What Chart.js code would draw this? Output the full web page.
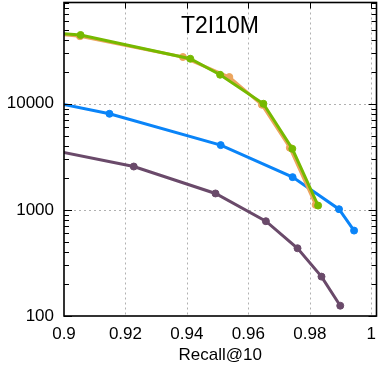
<!DOCTYPE html>
<html>
<head>
<meta charset="utf-8">
<script src="https://cdn.jsdelivr.net/npm/chart.js@4.4.1/dist/chart.umd.min.js"></script>
<style>
  html, body { margin: 0; padding: 0; background: #fff; }
  canvas { display: block; }
</style>
</head>
<body>
<canvas id="chart" width="378" height="366"></canvas>
<script>
// tick labels
const xTicks = [0.9, 0.92, 0.94, 0.96, 0.98, 1];
const yTicks = [100, 1000, 10000];

// series (recall, qps) - first point sits left of the visible range
const greenRecall = [0.88, 0.9054, 0.9411, 0.9508, 0.9649, 0.9743, 0.9827];
const greenQps    = [50900, 44460, 26570, 18770, 10000, 3763, 1098];

const orangeRecall = [0.88, 0.9052, 0.9387, 0.9538, 0.9644, 0.9735, 0.9819];
const orangeQps    = [50000, 43300, 27570, 17860, 9786, 3846, 1115];

const blueRecall = [0.88, 0.9148, 0.9510, 0.9744, 0.9895, 0.9944];
const blueQps    = [12900, 8048, 4077, 2035, 1015, 638];

const purpleRecall = [0.88, 0.9227, 0.9493, 0.9657, 0.9760, 0.9838, 0.9899];
const purpleQps    = [4545, 2562, 1428, 782, 435, 235, 125];

const titleText = 'T2I10M';
const xTitle = 'Recall@10';

function toPoints(xs, ys) {
    return xs.map((x, i) => ({ x: x, y: ys[i] }));
}

function series(xs, ys, color) {
    return {
        data: toPoints(xs, ys),
        borderColor: color,
        backgroundColor: color,
        borderWidth: 3,
        pointRadius: 3.5,
        pointHoverRadius: 3.5,
        pointBorderWidth: 1,
        tension: 0,
        clip: 0
    };
}

// frame, dotted grid, inward ticks and the title
const framePlugin = {
    id: 'frame',
    beforeDatasetsDraw(chart) {
        const ctx = chart.ctx;
        const a = chart.chartArea;
        const xs = chart.scales.x, ys = chart.scales.y;
        ctx.save();
        ctx.strokeStyle = '#b0b0b0';
        ctx.lineWidth = 1;
        ctx.setLineDash([2, 3]);
        xTicks.slice(1).forEach(v => {
            const px = Math.round(xs.getPixelForValue(v)) + 0.5;
            ctx.beginPath(); ctx.moveTo(px, a.top); ctx.lineTo(px, a.bottom); ctx.stroke();
        });
        yTicks.slice(1).forEach(v => {
            const py = Math.round(ys.getPixelForValue(v)) + 0.5;
            ctx.beginPath(); ctx.moveTo(a.left, py); ctx.lineTo(a.right, py); ctx.stroke();
        });
        ctx.restore();
    },
    afterDatasetsDraw(chart) {
        const ctx = chart.ctx;
        const a = chart.chartArea;
        const xs = chart.scales.x, ys = chart.scales.y;
        ctx.save();
        ctx.strokeStyle = '#000';
        ctx.lineWidth = 1;
        // minor + major ticks on left and right
        for (let d = 100; d <= 100000; d *= 10) {
            for (let k = 1; k <= 9; k++) {
                const v = d * k;
                if (v < ys.min || v > ys.max) continue;
                const py = Math.round(ys.getPixelForValue(v)) + 0.5;
                const len = k === 1 ? 8 : 5;
                ctx.beginPath();
                ctx.moveTo(a.left, py); ctx.lineTo(a.left + len, py);
                ctx.moveTo(a.right, py); ctx.lineTo(a.right - len, py);
                ctx.stroke();
            }
        }
        xTicks.forEach(v => {
            const px = Math.round(xs.getPixelForValue(v)) + 0.5;
            ctx.beginPath();
            ctx.moveTo(px, a.top); ctx.lineTo(px, a.top + 6);
            ctx.stroke();
        });
        ctx.lineWidth = 1.6;
        ctx.strokeRect(a.left, a.top, a.right - a.left, a.bottom - a.top);
        ctx.fillStyle = '#000';
        ctx.font = '23px "Liberation Sans", Arial, sans-serif';
        ctx.textAlign = 'center';
        ctx.textBaseline = 'middle';
        ctx.fillText(titleText, 220, 27);
        ctx.restore();
    }
};

const ctx = document.getElementById('chart').getContext('2d');
new Chart(ctx, {
    type: 'line',
    data: {
        datasets: [
            series(greenRecall, greenQps, '#76b900'),
            series(orangeRecall, orangeQps, '#eca55e'),
            series(blueRecall, blueQps, '#0a84f8'),
            series(purpleRecall, purpleQps, '#6a4a6a')
        ]
    },
    options: {
        responsive: false,
        animation: false,
        devicePixelRatio: 1,
        layout: { autoPadding: false, padding: { top: 2.5, right: 1.5, left: 0, bottom: 0 } },
        plugins: {
            legend: { display: false },
            tooltip: { enabled: false }
        },
        scales: {
            x: {
                type: 'linear',
                min: 0.9,
                max: 1.0017,
                grid: { display: false, drawTicks: false },
                border: { display: false },
                afterFit(s) { s.height = 50; s.paddingLeft = 0; s.paddingRight = 0; },
                afterBuildTicks(s) { s.ticks = xTicks.map(v => ({ value: v })); },
                ticks: {
                    padding: 8,
                    color: '#000',
                    maxRotation: 0,
                    autoSkip: false,
                    font: { family: '"Liberation Sans", Arial, sans-serif', size: 17 },
                    callback: v => String(Number(v.toFixed(2)))
                },
                title: {
                    display: true,
                    text: xTitle,
                    color: '#000',
                    padding: { top: 0, bottom: 0 },
                    font: { family: '"Liberation Sans", Arial, sans-serif', size: 17 }
                }
            },
            y: {
                type: 'logarithmic',
                min: 100,
                max: 90000,
                grid: { display: false, drawTicks: false },
                border: { display: false },
                afterFit(s) { s.width = 64; s.paddingTop = 0; s.paddingBottom = 0; },
                afterBuildTicks(s) { s.ticks = yTicks.map(v => ({ value: v })); },
                ticks: {
                    padding: 10,
                    color: '#000',
                    autoSkip: false,
                    font: { family: '"Liberation Sans", Arial, sans-serif', size: 17 },
                    callback: v => String(v)
                }
            }
        }
    },
    plugins: [framePlugin]
});
</script>
</body>
</html>
